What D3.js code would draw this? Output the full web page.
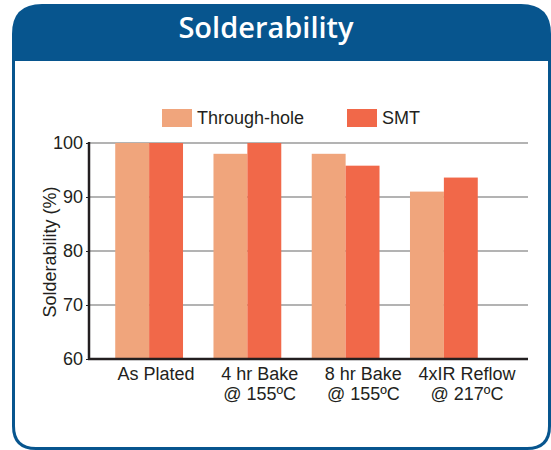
<!DOCTYPE html>
<html lang="en">
<head>
<meta charset="UTF-8">
<title>Solderability</title>
<script src="https://cdnjs.cloudflare.com/ajax/libs/d3/7.8.5/d3.min.js"></script>
<style>
  body { margin: 0; background: #fff; }
  text { font-family: "Liberation Sans", Arial, sans-serif; fill: #231f20; }
</style>
</head>
<body>
<script>
// data
var categories = [["As Plated"], ["4 hr Bake", "@ 155\u00baC"], ["8 hr Bake", "@ 155\u00baC"], ["4xIR Reflow", "@ 217\u00baC"]];
var series = ["Through-hole", "SMT"];
var throughHole = [100, 98, 98, 91];
var smt = [100, 100, 95.8, 93.6];
var yTicks = [60, 70, 80, 90, 100];

var colors = {"Through-hole": "#f0a57c", "SMT": "#f16849"};
var blue = "#07558e";
var fs = "18px";

var svg = d3.select("body").append("svg")
    .attr("width", 551)
    .attr("height", 450);

// frame: blue rounded box with white body
function box(x0, y0, x1, y1, rt, rb) {
  return "M" + x0 + "," + (y0 + rt) +
    "Q" + x0 + "," + y0 + " " + (x0 + rt) + "," + y0 +
    "L" + (x1 - rt) + "," + y0 +
    "Q" + x1 + "," + y0 + " " + x1 + "," + (y0 + rt) +
    "L" + x1 + "," + (y1 - rb) +
    "Q" + x1 + "," + y1 + " " + (x1 - rb) + "," + y1 +
    "L" + (x0 + rb) + "," + y1 +
    "Q" + x0 + "," + y1 + " " + x0 + "," + (y1 - rb) + "Z";
}
svg.append("path").attr("d", box(12, 4, 551, 450, 30, 24)).attr("fill", blue);
svg.append("path").attr("d", box(15, 61, 548, 447, 0, 21)).attr("fill", "#fff");

svg.append("text")
    .attr("x", 266).attr("y", 38)
    .attr("text-anchor", "middle")
    .style("font-family", "'Open Sans', sans-serif")
    .style("font-weight", "600")
    .style("font-size", "29px")
    .style("fill", "#fff")
    .text("Solderability");

// scales
var plotLeft = 89, plotRight = 528, plotTop = 143, plotBottom = 359;

var y = d3.scaleLinear().domain([60, 100]).range([plotBottom, plotTop]);
var x0 = d3.scaleBand()
    .domain(d3.range(categories.length))
    .range([100, 493])
    .paddingInner(0.31)
    .paddingOuter(0.155);
var x1 = d3.scaleBand().domain(series).range([0, x0.bandwidth()]);
var xLabel = d3.scalePoint().domain(d3.range(categories.length)).range([156, 467]);

// gridlines
svg.append("g")
  .selectAll("line")
  .data(yTicks.slice(1))
  .join("line")
    .attr("x1", plotLeft).attr("x2", plotRight)
    .attr("y1", function(d) { return y(d); })
    .attr("y2", function(d) { return y(d); })
    .attr("stroke", "#b3b3b3")
    .attr("stroke-width", 2);

// bars
var rows = categories.map(function(c, i) {
  return {i: i, values: [
    {key: "Through-hole", value: throughHole[i]},
    {key: "SMT", value: smt[i]}
  ]};
});
svg.append("g")
  .selectAll("g")
  .data(rows)
  .join("g")
    .attr("transform", function(d) { return "translate(" + x0(d.i) + ",0)"; })
  .selectAll("rect")
  .data(function(d) { return d.values; })
  .join("rect")
    .attr("x", function(d) { return x1(d.key); })
    .attr("width", x1.bandwidth())
    .attr("y", function(d) { return y(d.value); })
    .attr("height", function(d) { return y(60) - y(d.value); })
    .attr("fill", function(d) { return colors[d.key]; });

// y axis
var yAxis = svg.append("g")
    .attr("transform", "translate(" + plotLeft + ",0)")
    .call(d3.axisLeft(y).tickValues(yTicks).tickSize(3).tickPadding(3));
yAxis.select(".domain").remove();
yAxis.selectAll("line").attr("stroke", "#231f20");
yAxis.selectAll("text")
    .style("font-size", fs)
    .style("font-family", "'Liberation Sans', Arial, sans-serif")
    .attr("fill", "#231f20");

svg.append("line")
    .attr("x1", plotLeft).attr("x2", plotLeft)
    .attr("y1", plotTop - 1).attr("y2", plotBottom + 1)
    .attr("stroke", "#231f20").attr("stroke-width", 2.5);
svg.append("line")
    .attr("x1", plotLeft - 1).attr("x2", plotRight)
    .attr("y1", plotBottom).attr("y2", plotBottom)
    .attr("stroke", "#231f20").attr("stroke-width", 2.5);

svg.append("text")
    .attr("transform", "translate(56,252) rotate(-90)")
    .attr("text-anchor", "middle")
    .style("font-size", fs)
    .text("Solderability (%)");

// x labels
var xl = svg.append("g").selectAll("text")
  .data(categories)
  .join("text")
    .attr("x", function(d, i) { return xLabel(i); })
    .attr("y", 380)
    .attr("text-anchor", "middle")
    .style("font-size", fs);
xl.selectAll("tspan")
  .data(function(d) { return d; })
  .join("tspan")
    .attr("x", function() { return d3.select(this.parentNode).attr("x"); })
    .attr("dy", function(d, j) { return j ? 19.5 : 0; })
    .text(function(d) { return d; });

// legend
var legendX = [162, 347];
var lg = svg.append("g").selectAll("g")
  .data(series)
  .join("g")
    .attr("transform", function(d, i) { return "translate(" + legendX[i] + ",109)"; });
lg.append("rect")
    .attr("width", 30).attr("height", 18)
    .attr("fill", function(d) { return colors[d]; });
lg.append("text")
    .attr("x", 35).attr("y", 15)
    .style("font-size", fs)
    .text(function(d) { return d; });
</script>
</body>
</html>
